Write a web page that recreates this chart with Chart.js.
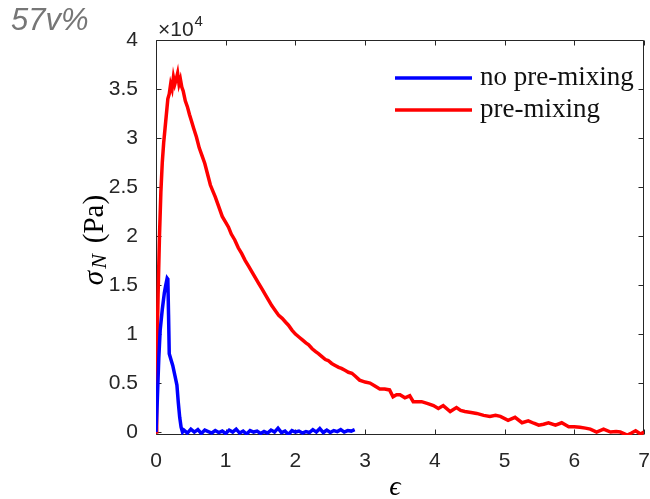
<!DOCTYPE html>
<html>
<head>
<meta charset="utf-8">
<script src="https://cdn.jsdelivr.net/npm/chart.js@4/dist/chart.umd.min.js"></script>
<style>
  html, body { margin: 0; padding: 0; background: #fff; overflow: hidden; }
  canvas { display: block; }
</style>
</head>
<body>
<canvas id="c" width="650" height="499"></canvas>
<script>
// Normal stress σ_N (Pa) against strain ε, with and without pre-mixing.
const noMixStrain = [
  0, 0.02, 0.04, 0.06, 0.09, 0.12, 0.14, 0.16, 0.17, 0.18, 0.19, 0.21, 0.24, 0.27, 0.30, 0.32, 0.34, 0.36, 0.38,
  0.40, 0.45, 0.50, 0.55, 0.60, 0.65, 0.70, 0.75, 0.80, 0.85, 0.90, 0.95, 1.00, 1.05, 1.10, 1.15, 1.20, 1.25,
  1.30, 1.35, 1.40, 1.45, 1.50, 1.55, 1.60, 1.65, 1.70, 1.75, 1.80, 1.85, 1.90, 1.95, 2.00, 2.05, 2.10, 2.15,
  2.20, 2.25, 2.30, 2.35, 2.40, 2.45, 2.50, 2.55, 2.60, 2.65, 2.70, 2.75, 2.80, 2.85
];
const noMixStress = [
  0, 3500, 7500, 10400, 12500, 14200, 15000, 15700, 15600, 12000, 8000, 7500, 6800, 5800, 4800, 3000, 1500, 500, 0,
  200, -100, 300, 0, 250, -150, 200, 50, -100, 150, -50, 100, -150, 200, 0, 300, -100, 100,
  -200, 150, 0, 100, -150, 50, -100, 200, 0, 400, -50, 100, -250, 150, 0, 100, -100, 50,
  -50, 250, 0, 350, -50, 200, -50, 150, 50, 250, 0, 150, 100, 250
];

const mixStrain = [
  0, 0.01, 0.03, 0.05, 0.07, 0.09, 0.11, 0.13, 0.15, 0.17, 0.19, 0.21, 0.23, 0.25, 0.27, 0.29, 0.31, 0.33, 0.35,
  0.37, 0.39, 0.42, 0.45, 0.48, 0.51, 0.54, 0.58, 0.62, 0.66, 0.70, 0.74, 0.78, 0.82, 0.85, 0.90, 0.95, 1.00,
  1.04, 1.08, 1.13, 1.18, 1.23, 1.28, 1.33, 1.38, 1.42, 1.47, 1.52, 1.57, 1.61, 1.66, 1.71, 1.76, 1.81, 1.86,
  1.90, 1.95, 2.00, 2.05, 2.10, 2.15, 2.19, 2.24, 2.29, 2.33, 2.38, 2.43, 2.47, 2.52, 2.57, 2.62, 2.66, 2.71,
  2.76, 2.81, 2.86, 2.92, 3.00, 3.07, 3.14, 3.21, 3.28, 3.35, 3.40, 3.45, 3.50, 3.57, 3.64, 3.69, 3.75, 3.81,
  3.90, 3.98, 4.05, 4.12, 4.22, 4.31, 4.37, 4.43, 4.52, 4.60, 4.70, 4.79, 4.87, 4.94, 5.05, 5.15, 5.25, 5.34,
  5.42, 5.49, 5.56, 5.63, 5.73, 5.82, 5.92, 6.00, 6.08, 6.16, 6.23, 6.32, 6.42, 6.52, 6.60, 6.66, 6.76, 6.82,
  6.88, 6.95, 7.00
];
const mixStress = [
  0, 7000, 14000, 20000, 24500, 27500, 29500, 31000, 32500, 34000, 34500, 35500, 35000, 36200, 35500, 36000, 36600, 35500, 36000,
  35200, 34800, 33800, 33200, 32400, 31700, 31000, 30100, 29000, 28200, 27400, 26300, 25200, 24500, 24000, 23000, 22000, 21400,
  20900, 20200, 19600, 18800, 18200, 17500, 16900, 16300, 15800, 15200, 14600, 14000, 13500, 12900, 12400, 11900, 11600, 11200,
  10900, 10400, 10000, 9700, 9400, 9100, 8900, 8500, 8200, 8000, 7700, 7400, 7300, 7000, 6800, 6600, 6500, 6300,
  6100, 6000, 5700, 5300, 5100, 5000, 4700, 4400, 4400, 4300, 3600, 3800, 3800, 3500, 3700, 3100, 3100, 3100,
  2900, 2700, 2400, 2700, 2100, 2500, 2200, 2100, 2000, 1900, 1700, 1600, 1700, 1600, 1200, 1500, 950, 1150,
  900, 700, 800, 950, 700, 950, 550, 550, 480, 400, 300, 0, 300, 0, 50, 0, -300, -100,
  130, -200, 0
];

const seriesLabels = ['no pre-mixing', 'pre-mixing'];
const seriesColors = ['#0000ff', '#ff0000'];
const xTicks = [0, 1, 2, 3, 4, 5, 6, 7];
const yTicks = [0, 5000, 10000, 15000, 20000, 25000, 30000, 35000, 40000];
const yExponent = 4;
const panelTag = '57v%';
const xTitle = '\u03F5';

const SANS = '"Liberation Sans", Arial, Helvetica, sans-serif';
const SERIF = '"Liberation Serif", "Times New Roman", "DejaVu Serif", serif';
const AXIS_COLOR = '#262626';

function toPoints(xs, ys) {
  return xs.map((x, i) => ({ x: x, y: ys[i] }));
}

// Box around the plot area with inward ticks on all four sides, plus the
// annotation texts (panel tag, exponent, axis titles, legend).
const framePlugin = {
  id: 'frame',
  beforeDatasetsDraw(chart) {
    const { ctx, chartArea: a, scales } = chart;
    const L = Math.round(a.left) + 0.5, R = Math.round(a.right) - 0.5;
    const T = Math.round(a.top) + 0.5, B = Math.round(a.bottom) - 0.5;
    ctx.save();
    ctx.strokeStyle = AXIS_COLOR;
    ctx.lineWidth = 1;
    ctx.beginPath();
    ctx.rect(L, T, R - L, B - T);
    const tl = 5;
    xTicks.forEach(v => {
      const px = Math.round(scales.x.getPixelForValue(v)) + 0.5;
      ctx.moveTo(px, B); ctx.lineTo(px, B - tl);
      ctx.moveTo(px, T); ctx.lineTo(px, T + tl);
    });
    yTicks.forEach(v => {
      const py = Math.round(scales.y.getPixelForValue(v)) + 0.5;
      ctx.moveTo(L, py); ctx.lineTo(L + tl, py);
      ctx.moveTo(R, py); ctx.lineTo(R - tl, py);
    });
    ctx.stroke();
    ctx.restore();
  },
  afterDraw(chart) {
    const { ctx, chartArea: a } = chart;
    ctx.save();

    // panel tag
    ctx.fillStyle = '#767676';
    ctx.font = 'italic 31px ' + SANS;
    ctx.textAlign = 'left';
    ctx.textBaseline = 'alphabetic';
    ctx.fillText(panelTag, 11, 30);

    // exponent above the y axis
    ctx.fillStyle = AXIS_COLOR;
    ctx.font = '21px ' + SANS;
    const base = '\u00D710';
    ctx.fillText(base, a.left + 2, 36);
    const bw = ctx.measureText(base).width;
    ctx.font = '15px ' + SANS;
    ctx.fillText(String(yExponent), a.left + 2 + bw + 1, 26);

    // x title
    ctx.fillStyle = '#000';
    ctx.font = 'italic 28px ' + SERIF;
    ctx.textAlign = 'center';
    ctx.fillText(xTitle, 395, 495);

    // y title: σ_N (Pa), rotated
    ctx.save();
    ctx.translate(103, 240);
    ctx.rotate(-Math.PI / 2);
    ctx.textAlign = 'left';
    const parts = [
      { t: '\u03C3', f: 'italic 29px ' + SERIF, dy: 0, gap: 0 },
      { t: 'N', f: 'italic 22px ' + SERIF, dy: 3, gap: 2 },
      { t: '(Pa)', f: '29px ' + SERIF, dy: 0, gap: 11 }
    ];
    let total = 0;
    parts.forEach(p => { ctx.font = p.f; p.w = ctx.measureText(p.t).width; total += p.gap + p.w; });
    let cx = -total / 2;
    parts.forEach(p => {
      cx += p.gap;
      ctx.font = p.f;
      ctx.fillText(p.t, cx, p.dy);
      cx += p.w;
    });
    ctx.restore();

    // legend
    ctx.textAlign = 'left';
    ctx.font = '27px ' + SERIF;
    const rows = [85, 117];
    chart.data.datasets.forEach((ds, i) => {
      const yb = rows[i];
      ctx.strokeStyle = ds.borderColor;
      ctx.lineWidth = 3.5;
      ctx.beginPath();
      ctx.moveTo(395, yb - 7);
      ctx.lineTo(472, yb - 7);
      ctx.stroke();
      ctx.fillStyle = '#111';
      ctx.fillText(ds.label, 480, yb);
    });

    ctx.restore();
  }
};

new Chart(document.getElementById('c'), {
  type: 'line',
  data: {
    datasets: [
      {
        label: seriesLabels[0],
        data: toPoints(noMixStrain, noMixStress),
        borderColor: seriesColors[0],
        backgroundColor: seriesColors[0],
        borderWidth: 3.5,
        pointRadius: 0,
        tension: 0,
        fill: false
      },
      {
        label: seriesLabels[1],
        data: toPoints(mixStrain, mixStress),
        borderColor: seriesColors[1],
        backgroundColor: seriesColors[1],
        borderWidth: 3.5,
        pointRadius: 0,
        tension: 0,
        fill: false
      }
    ]
  },
  options: {
    responsive: false,
    animation: false,
    events: [],
    layout: { padding: { top: 40, right: 6, bottom: 0, left: 0 } },
    plugins: { legend: { display: false }, tooltip: { enabled: false } },
    scales: {
      x: {
        type: 'linear',
        min: 0,
        max: 7,
        grid: { display: false },
        border: { display: false },
        afterBuildTicks: s => { s.ticks = xTicks.map(v => ({ value: v })); },
        afterFit: s => {
          s.height = 64;
          s.paddingLeft = 0; s.paddingRight = 0; s.paddingTop = 0; s.paddingBottom = 0;
        },
        ticks: {
          color: AXIS_COLOR,
          font: { family: SANS, size: 21 },
          padding: 6,
          maxRotation: 0,
          autoSkip: false,
          callback: v => String(v)
        }
      },
      y: {
        type: 'linear',
        min: -300,
        max: 40000,
        grid: { display: false },
        border: { display: false },
        afterBuildTicks: s => { s.ticks = yTicks.map(v => ({ value: v })); },
        afterFit: s => {
          s.width = 156;
          s.paddingLeft = 0; s.paddingRight = 0; s.paddingTop = 0; s.paddingBottom = 0;
        },
        ticks: {
          color: AXIS_COLOR,
          font: { family: SANS, size: 21 },
          padding: 10,
          autoSkip: false,
          callback: v => String(v / Math.pow(10, yExponent))
        }
      }
    }
  },
  plugins: [framePlugin]
});
</script>
</body>
</html>
